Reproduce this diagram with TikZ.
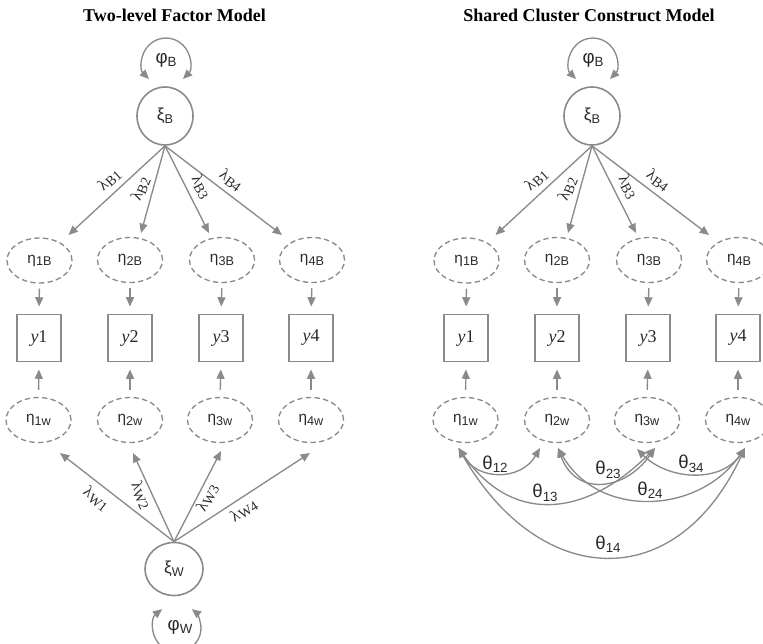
\documentclass[tikz,border=0pt]{standalone}
\usepackage{fontspec}
\setmainfont{Liberation Serif}
\newfontfamily\grk{Liberation Sans}
\usetikzlibrary{arrows.meta,shapes.geometric}
\definecolor{lg}{HTML}{8A8A8A}
\definecolor{tx}{HTML}{2A2A2A}
\newcommand\glab[4]{{\grk\fontsize{#1pt}{#1pt}\selectfont #2\raisebox{-0.35ex}{\fontsize{#3pt}{#3pt}\selectfont #4}}}
\newcommand\mylam[1]{{\fontsize{12pt}{12pt}\selectfont λ\raisebox{-0.3ex}{\fontsize{10.5pt}{10.5pt}\selectfont #1}}}
\newcommand\ylab[1]{{\fontsize{13.5pt}{13.5pt}\selectfont\textit{y}#1}}
\newcommand\sempanel[2]{%
  % between level
  \node[circ] (#1xiB) at (#2+165,-116) {\glab{13}{ξ}{9.5}{B}};
  \node[txt] (#1phiB) at (#2+166,-60) {\glab{14}{φ}{10}{B}};
  \draw[dbl] ([shift={(-16,37)}]#1xiB.center) arc[start angle=225,end angle=-45,radius=24];
  \node[lat] (#1e1B) at (#2+39.5,-260.5) {\glab{11.5}{η}{9.5}{1B}};
  \node[lat] (#1e2B) at (#2+130,-260) {\glab{11.5}{η}{9.5}{2B}};
  \node[lat] (#1e3B) at (#2+222,-260) {\glab{11.5}{η}{9.5}{3B}};
  \node[lat] (#1e4B) at (#2+312,-260) {\glab{11.5}{η}{9.5}{4B}};
  \node[obs] (#1y1) at (#2+39,-338) {\ylab{1}};
  \node[obs] (#1y2) at (#2+130,-338) {\ylab{2}};
  \node[obs] (#1y3) at (#2+221,-338) {\ylab{3}};
  \node[obs] (#1y4) at (#2+311,-338) {\ylab{4}};
  \node[lat] (#1e1W) at (#2+38.5,-420) {\glab{11.5}{η}{9.5}{1w}};
  \node[lat] (#1e2W) at (#2+130,-420) {\glab{11.5}{η}{9.5}{2w}};
  \node[lat] (#1e3W) at (#2+220,-420) {\glab{11.5}{η}{9.5}{3w}};
  \node[lat] (#1e4W) at (#2+311,-420) {\glab{11.5}{η}{9.5}{4w}};
  \draw[arr] (#1xiB.south) -- ([shift={(29,25.5)}]#1e1B.center);
  \draw[arr] (#1xiB.south) -- ([shift={(11,27)}]#1e2B.center);
  \draw[arr] (#1xiB.south) -- ([shift={(-13,27)}]#1e3B.center);
  \draw[arr] (#1xiB.south) -- ([shift={(-30,25)}]#1e4B.center);
  \node[txt,rotate=42.8] (#1lB1) at (#2+109.5,-180) {\mylam{B1}};
  \node[txt,rotate=68] (#1lB2) at (#2+140.5,-189) {\mylam{B2}};
  \node[txt,rotate=-62] (#1lB3) at (#2+201,-187) {\mylam{B3}};
  \node[txt,rotate=-37] (#1lB4) at (#2+231,-180.5) {\mylam{B4}};
  \draw[arr,shorten <=3.75pt,shorten >=5.25pt] (#1e1B.south) -- (#1y1.north);
  \draw[arr,shorten <=3.75pt,shorten >=5.25pt] (#1e2B.south) -- (#1y2.north);
  \draw[arr,shorten <=3.75pt,shorten >=5.25pt] (#1e3B.south) -- (#1y3.north);
  \draw[arr,shorten <=3.75pt,shorten >=5.25pt] (#1e4B.south) -- (#1y4.north);
  \draw[arr,shorten <=5.25pt,shorten >=5.25pt] (#1e1W.north) -- (#1y1.south);
  \draw[arr,shorten <=5.25pt,shorten >=5.25pt] (#1e2W.north) -- (#1y2.south);
  \draw[arr,shorten <=5.25pt,shorten >=5.25pt] (#1e3W.north) -- (#1y3.south);
  \draw[arr,shorten <=5.25pt,shorten >=5.25pt] (#1e4W.north) -- (#1y4.south);
}
\begin{document}
\begin{tikzpicture}[x=0.75pt,y=0.75pt,
  >={Triangle[length=7pt,width=6pt]},
  lat/.style={ellipse,draw=lg,line width=1pt,dash pattern=on 4pt off 2.5pt,
    minimum width=48.75pt,minimum height=33.75pt,inner sep=0pt,text=tx},
  circ/.style={ellipse,draw=lg,line width=1.2pt,minimum width=42pt,
    minimum height=43.5pt,inner sep=0pt,text=tx},
  circw/.style={circ,minimum width=43.5pt,minimum height=39.75pt},
  obs/.style={rectangle,draw=lg,line width=1.4pt,minimum width=33pt,
    minimum height=35.25pt,inner sep=0pt,text=tx},
  arr/.style={draw=lg,line width=1pt,->},
  dbl/.style={draw=lg,line width=1pt,<->},
  txt/.style={inner sep=0pt,text=tx},
  ttl/.style={inner sep=0pt,font=\fontsize{13.5pt}{13.5pt}\selectfont\bfseries}]
\useasboundingbox (0,0) rectangle (763,-643);
% titles
\node[ttl] (t1) at (174.5,-15) {Two-level Factor Model};
\node[ttl] (t2) at (589,-15) {Shared Cluster Construct Model};
% panels
\sempanel{L}{0}
\sempanel{R}{427}
% left within level
\node[circw] (LxiW) at (174,-569) {\glab{13}{ξ}{9.5}{W}};
\node[txt] (LphiW) at (180,-627) {\glab{14}{φ}{10}{W}};
\draw[dbl] ([shift={(-11.8,-40.1)}]LxiW.center) arc[start angle=128,end angle=412,radius=24];
\draw[arr] (LxiW.north) -- ([shift={(21.5,-33)}]Le1W.center);
\draw[arr] (LxiW.north) -- ([shift={(3,-33)}]Le2W.center);
\draw[arr] (LxiW.north) -- ([shift={(1,-31)}]Le3W.center);
\draw[arr] (LxiW.north) -- ([shift={(-1,-33)}]Le4W.center);
\node[txt,rotate=-38] (LlW1) at (96,-499) {\mylam{W1}};
\node[txt,rotate=-65] (LlW2) at (141,-495) {\mylam{W2}};
\node[txt,rotate=62] (LlW3) at (207.5,-498) {\mylam{W3}};
\node[txt,rotate=33] (LlW4) at (244,-511) {\mylam{W4}};
% right within covariances
\draw[dbl] ([shift={(-7,-28)}]Re1W.center) to[out=-60,in=-120,looseness=1.2] ([shift={(-17,-28)}]Re2W.center);
\draw[dbl] ([shift={(-7,-28)}]Re1W.center) to[out=-55,in=-135,looseness=1.25] ([shift={(8,-28)}]Re3W.center);
\draw[dbl] ([shift={(-7,-28)}]Re1W.center) to[out=-60,in=-115,looseness=1.46] ([shift={(7,-28)}]Re4W.center);
\draw[dbl] ([shift={(1,-28)}]Re2W.center) to[out=-70,in=-125,looseness=1.38] ([shift={(8,-28)}]Re3W.center);
\draw[dbl] ([shift={(1,-28)}]Re2W.center) to[out=-60,in=-125,looseness=1.12] ([shift={(7,-28)}]Re4W.center);
\draw[dbl] ([shift={(-10,-29)}]Re3W.center) to[out=-45,in=-125,looseness=1.03] ([shift={(7,-28)}]Re4W.center);
\node[txt] (th12) at (495,-464) {\glab{14}{θ}{10}{12}};
\node[txt] (th13) at (545,-493) {\glab{14}{θ}{10}{13}};
\node[txt] (th14) at (608,-544) {\glab{14}{θ}{10}{14}};
\node[txt] (th23) at (608,-470) {\glab{14}{θ}{10}{23}};
\node[txt] (th24) at (650,-490) {\glab{14}{θ}{10}{24}};
\node[txt] (th34) at (691,-464) {\glab{14}{θ}{10}{34}};
\end{tikzpicture}
\end{document}
